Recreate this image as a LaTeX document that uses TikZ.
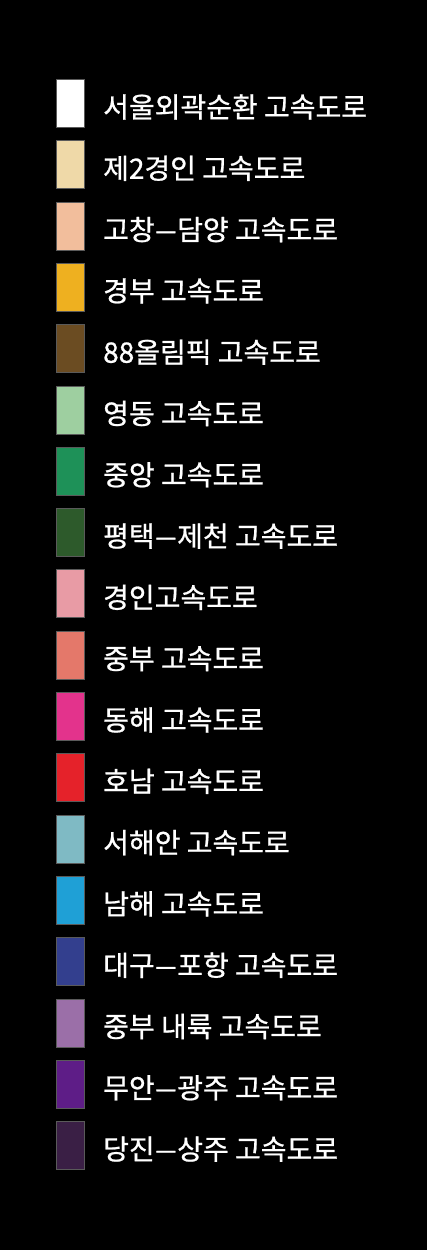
\documentclass[tikz,border=0pt]{standalone}
\usepackage{fontspec}
\usepackage{graphicx}
\newfontfamily\kr[FakeBold=0.8]{Noto Sans CJK KR}
\newcommand{\wdash}{\scalebox{1.5}[1]{–}}
\definecolor{c1}{HTML}{FFFFFF}
\definecolor{c2}{HTML}{EFD9A8}
\definecolor{c3}{HTML}{F2BE9C}
\definecolor{c4}{HTML}{EEB020}
\definecolor{c5}{HTML}{6B4C22}
\definecolor{c6}{HTML}{9ECFA0}
\definecolor{c7}{HTML}{1E9158}
\definecolor{c8}{HTML}{2D5A2B}
\definecolor{c9}{HTML}{E89BA5}
\definecolor{c10}{HTML}{E4786A}
\definecolor{c11}{HTML}{E3338C}
\definecolor{c12}{HTML}{E5222A}
\definecolor{c13}{HTML}{7FBAC4}
\definecolor{c14}{HTML}{1FA0D6}
\definecolor{c15}{HTML}{333F8E}
\definecolor{c16}{HTML}{9B6FA8}
\definecolor{c17}{HTML}{5E1D87}
\definecolor{c18}{HTML}{3A1F45}
\definecolor{edge}{HTML}{5A5A5A}
\tikzset{
  swatch/.style={draw=edge, line width=0.6pt, minimum width=28pt, minimum height=48pt, inner sep=0pt, anchor=north west},
  label/.style={text=white, font=\kr\fontsize{28}{32}\selectfont, anchor=west, inner sep=0pt}
}
\begin{document}
\begin{tikzpicture}[x=1pt,y=-1pt]
\fill[black] (0,0) rectangle (427,1250);
\useasboundingbox (0,0) rectangle (427,1250);
\foreach \i/\t in {1/서울외곽순환 고속도로, 2/제2경인 고속도로, 3/고창\wdash 담양 고속도로, 4/경부 고속도로, 5/88올림픽 고속도로, 6/영동 고속도로, 7/중앙 고속도로, 8/평택\wdash 제천 고속도로, 9/경인고속도로, 10/중부 고속도로, 11/동해 고속도로, 12/호남 고속도로, 13/서해안 고속도로, 14/남해 고속도로, 15/대구\wdash 포항 고속도로, 16/중부 내륙 고속도로, 17/무안\wdash 광주 고속도로, 18/당진\wdash 상주 고속도로}{
  \pgfmathsetmacro{\yy}{79+61.3*(\i-1)}
  \node[swatch, fill=c\i] (sw\i) at (55.5,\yy) {};
  \node[label] (lb\i) at (103,\yy+28) {\t};
}
\end{tikzpicture}
\end{document}
